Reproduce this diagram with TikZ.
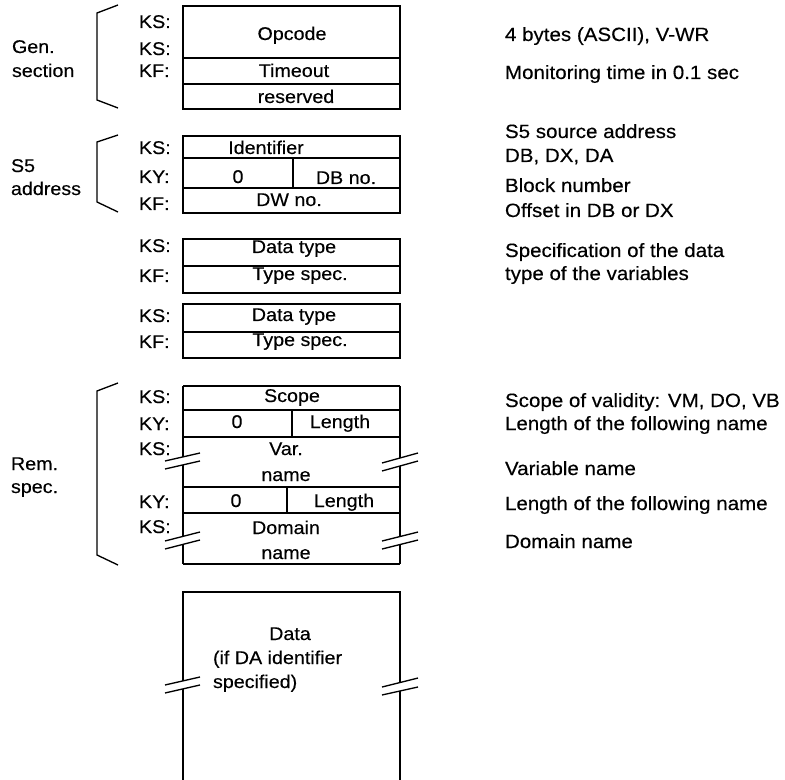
\documentclass[tikz,border=0pt]{standalone}
\usepackage{fontspec}
\setmainfont[FakeStretch=1.07,FakeBold=0.3]{Liberation Sans}
\begin{document}
\begin{tikzpicture}[x=0.75pt,y=-0.75pt,
  every node/.style={inner sep=0pt,outer sep=0pt},
  lbl/.style={anchor=base west,font=\fontsize{13.8}{16}\selectfont},
  cell/.style={anchor=base,font=\fontsize{13.8}{16}\selectfont},
  note/.style={anchor=base west,font=\fontsize{14.4}{16}\selectfont},
  edge/.style={line width=1pt},
  brace/.style={line width=1pt,line join=miter}]
\useasboundingbox (0,0) rectangle (785,780);

% ---------- General section ----------
\draw[edge] (183,6) rectangle (400,109);
\draw[edge] (183,58) -- (400,58);
\draw[edge] (183,84) -- (400,84);
\draw[brace] (118,5) -- (97,13) -- (97,100) -- (118,108);
\node[lbl] (gen1) at (12,53) {Gen.};
\node[lbl] (gen2) at (12,77) {section};
\node[lbl] (ksA) at (139,28) {KS:};
\node[lbl] (ksB) at (139,55) {KS:};
\node[lbl] (kfA) at (139,77) {KF:};
\node[cell] (opcode) at (292,40) {Opcode};
\node[cell] (timeout) at (294,77) {Timeout};
\node[cell] (reserved) at (296,103) {reserved};

% ---------- S5 address ----------
\draw[edge] (183,136) rectangle (400,213);
\draw[edge] (183,158) -- (400,158);
\draw[edge] (183,188) -- (400,188);
\draw[edge] (293,158) -- (293,188);
\draw[brace] (118,135) -- (97,142) -- (97,202) -- (118,212);
\node[lbl] (s5a) at (11,172) {S5};
\node[lbl] (s5b) at (11,195) {address};
\node[lbl] (ksC) at (139,154) {KS:};
\node[lbl] (kyA) at (139,183) {KY:};
\node[lbl] (kfB) at (139,210) {KF:};
\node[cell] (ident) at (266,154) {Identifier};
\node[cell] (zeroA) at (238,183) {0};
\node[cell] (dbno) at (346,184) {DB no.};
\node[cell] (dwno) at (289,206) {DW no.};

% ---------- Data type boxes ----------
\draw[edge] (183,239) rectangle (400,293);
\draw[edge] (183,266) -- (400,266);
\node[lbl] (ksD) at (139,252) {KS:};
\node[lbl] (kfC) at (139,282) {KF:};
\node[cell] (dtA) at (294,253) {Data type};
\node[cell] (tsA) at (300,280) {Type spec.};

\draw[edge] (183,304) rectangle (400,358);
\draw[edge] (183,332) -- (400,332);
\node[lbl] (ksE) at (139,322) {KS:};
\node[lbl] (kfD) at (139,348) {KF:};
\node[cell] (dtB) at (294,321) {Data type};
\node[cell] (tsB) at (300,346) {Type spec.};

% ---------- Rem. spec. ----------
\draw[edge] (183,386) -- (400,386);
\draw[edge] (183,410) -- (400,410);
\draw[edge] (183,437) -- (400,437);
\draw[edge] (183,487) -- (400,487);
\draw[edge] (183,513) -- (400,513);
\draw[edge] (183,564) -- (400,564);
\draw[edge] (292,410) -- (292,437);
\draw[edge] (287,487) -- (287,513);
% left edge with breaks
\draw[edge] (183,386) -- (183,457);
\draw[edge] (183,465) -- (183,536.5);
\draw[edge] (183,544.5) -- (183,564);
% right edge with breaks
\draw[edge] (400,386) -- (400,458);
\draw[edge] (400,466) -- (400,536.5);
\draw[edge] (400,544.5) -- (400,564);
% break marks
\draw[edge] (165,461) -- (200,453);
\draw[edge] (165,469) -- (200,461);
\draw[edge] (382,463) -- (418,453);
\draw[edge] (382,471) -- (418,461);
\draw[edge] (165,541) -- (200,532);
\draw[edge] (165,549) -- (200,540);
\draw[edge] (382,541) -- (418,532);
\draw[edge] (382,549) -- (418,540);

\draw[brace] (118,383) -- (97,391) -- (97,555) -- (118,565);
\node[lbl] (rem1) at (11,470) {Rem.};
\node[lbl] (rem2) at (11,493) {spec.};
\node[lbl] (ksF) at (139,403) {KS:};
\node[lbl] (kyB) at (139,430) {KY:};
\node[lbl] (ksG) at (139,455) {KS:};
\node[lbl] (kyC) at (139,508) {KY:};
\node[lbl] (ksH) at (139,533) {KS:};
\node[cell] (scope) at (292,402) {Scope};
\node[cell] (zeroB) at (237,428) {0};
\node[cell] (lenA) at (340,428) {Length};
\node[cell] (var) at (286,455) {Var.};
\node[cell] (vname) at (286,481) {name};
\node[cell] (zeroC) at (236,507) {0};
\node[cell] (lenB) at (344,507) {Length};
\node[cell] (dom) at (286,534) {Domain};
\node[cell] (dname) at (286,559) {name};

% ---------- Data ----------
\draw[edge] (183,780) -- (183,689);
\draw[edge] (183,681) -- (183,592) -- (400,592) -- (400,682.6);
\draw[edge] (400,690.9) -- (400,780);
\draw[edge] (165,685) -- (200,677);
\draw[edge] (165,693) -- (200,685);
\draw[edge] (382,687) -- (418,678);
\draw[edge] (382,695) -- (418,687);
\node[cell] (data1) at (290,640) {Data};
\node[lbl] (data2) at (213,664) {(if DA identifier};
\node[lbl] (data3) at (213,688) {specified)};

% ---------- Notes ----------
\node[note] (n1) at (505,41) {4 bytes (ASCII), V-WR};
\node[note] (n2) at (505,79) {Monitoring time in 0.1 sec};
\node[note] (n3) at (505,138) {S5 source address};
\node[note] (n4) at (505,162) {DB, DX, DA};
\node[note] (n5) at (505,192) {Block number};
\node[note] (n6) at (505,217) {Offset in DB or DX};
\node[note] (n7) at (505,257) {Specification of the data};
\node[note] (n8) at (505,280) {type of the variables};
\node[note] (n9) at (505,407) {Scope of validity: VM, DO, VB};
\node[note] (n10) at (505,430) {Length of the following name};
\node[note] (n11) at (505,475) {Variable name};
\node[note] (n12) at (505,510) {Length of the following name};
\node[note] (n13) at (505,548) {Domain name};
\end{tikzpicture}
\end{document}
